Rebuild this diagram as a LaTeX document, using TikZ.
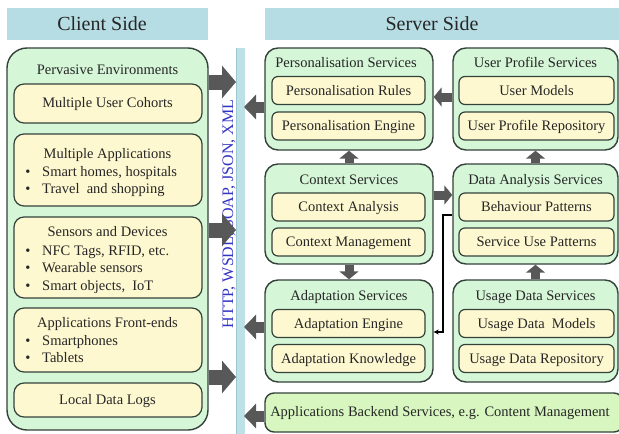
\documentclass[tikz,border=0pt]{standalone}
\usepackage{fontspec}
\setmainfont{Liberation Serif}
\usetikzlibrary{arrows.meta,calc}
\definecolor{hdr}{HTML}{B7DDE4}
\definecolor{outg}{HTML}{D6F6D8}
\definecolor{inny}{HTML}{FEF8D0}
\definecolor{bord}{HTML}{34423A}
\definecolor{backg}{HTML}{D8F7C0}
\definecolor{arr}{HTML}{585858}
\definecolor{proto}{HTML}{3434C4}
\definecolor{barc}{HTML}{BEE0E7}
\definecolor{barl}{HTML}{9CC8D2}
\tikzset{
  txt/.style={inner sep=0pt, text height=9.8pt, text depth=0pt, font=\fontsize{14.5}{17}\selectfont, text=black!85},
  hdrbox/.style={fill=hdr, draw=none, inner sep=0pt},
  hdrtxt/.style={inner sep=0pt, text height=13.5pt, text depth=0pt, font=\fontsize{20}{24}\selectfont, text=black!85},
  clout/.style={draw=bord, line width=1.4pt, fill=outg, rounded corners=20pt, inner sep=0pt},
  clin/.style={draw=bord, line width=1.2pt, fill=inny, rounded corners=10pt, inner sep=0pt, minimum width=188pt},
  svout/.style={draw=bord, line width=1.4pt, fill=outg, rounded corners=13pt, inner sep=0pt},
  svin/.style={draw=bord, line width=1.2pt, fill=inny, rounded corners=6pt, inner sep=0pt, minimum height=28pt,
     text height=9.8pt, text depth=0pt, font=\fontsize{14.5}{17}\selectfont, text=black!85},
  bigR/.style={draw=arr, line width=15pt, -{Triangle[length=14pt,width=32pt]}},
  midL/.style={draw=arr, line width=11pt, -{Triangle[length=12pt,width=24pt]}},
  smallA/.style={draw=arr, line width=9pt, -{Triangle[length=8pt,width=19pt]}},
  conn/.style={draw=black, line width=1.5pt, -{Stealth[length=5pt,width=5pt]}},
}
\begin{document}
\begin{tikzpicture}[x=1pt,y=-1pt]
\useasboundingbox (0,0) rectangle (619,434);
\fill[white] (0,0) rectangle (619,434);

% headers
\node[hdrbox, minimum width=201pt, minimum height=32pt] (hclient) at (107.5,24) {};
\node[hdrtxt] (tclient) at (102,24) {Client Side};
\node[hdrbox, minimum width=354pt, minimum height=32pt] (hserver) at (442,24) {};
\node[hdrtxt] (tserver) at (432,24) {Server Side};

% protocol bar
\node[fill=barc, draw=none, inner sep=0pt, minimum width=8pt, minimum height=386pt] (bar) at (241,241) {};
\draw[barl, line width=0.8pt] (bar.north west) -- (bar.south west);
\node[rotate=90, inner sep=0pt, text height=11pt, text depth=0pt, font=\fontsize{16}{18}\selectfont, text=proto] (proto) at (227.5,214) {HTTP, WSDL, SOAP, JSON, XML};

% client side
\node[clout, minimum width=201pt, minimum height=382pt] (client) at (107.5,239) {};
\node[txt] (tpervasive) at (107.5,70) {Pervasive Environments};
\node[clin, minimum height=39pt] (cohorts) at (108,103.5) {};
\node[txt] (tcohorts) at (107.5,103) {Multiple User Cohorts};
\node[clin, minimum height=72pt] (apps) at (108,170) {};
\node[txt] (tapps) at (107.5,154) {Multiple Applications};
\node[txt] (b1) at (28,172) {\textbullet};
\node[txt, anchor=west] (l1) at (42,172) {Smart homes, hospitals};
\node[txt] (b2) at (28,189) {\textbullet};
\node[txt, anchor=west] (l2) at (42,189) {Travel\ \ and shopping};
\node[clin, minimum height=81pt] (sensors) at (108,257.5) {};
\node[txt] (tsensors) at (107.5,232) {Sensors and Devices};
\node[txt] (b3) at (28,250.5) {\textbullet};
\node[txt, anchor=west] (l3) at (42,250.5) {NFC Tags,\ RFID, etc.};
\node[txt] (b4) at (28,268) {\textbullet};
\node[txt, anchor=west] (l4) at (42,268) {Wearable sensors};
\node[txt] (b5) at (28,285.5) {\textbullet};
\node[txt, anchor=west] (l5) at (42,285.5) {Smart objects,\ \ IoT};
\node[clin, minimum height=64pt] (front) at (108,340) {};
\node[txt] (tfront) at (107.5,323) {Applications Front-ends};
\node[txt] (b6) at (28,341) {\textbullet};
\node[txt, anchor=west] (l6) at (42,341) {Smartphones};
\node[txt] (b7) at (28,358) {\textbullet};
\node[txt, anchor=west] (l7) at (42,358) {Tablets};
\node[clin, minimum height=34pt] (logs) at (108,400) {};
\node[txt] (tlogs) at (107.5,400) {Local Data Logs};

% server side: left column
\node[svout, minimum width=168pt, minimum height=102pt] (pers) at (349,99) {};
\node[txt] (tpers) at (346,63) {Personalisation Services};
\node[svin, minimum width=153pt] (prules) at (348.5,90.5) {Personalisation Rules};
\node[svin, minimum width=153pt] (pengine) at (348.5,126) {Personalisation Engine};

\node[svout, minimum width=168pt, minimum height=100pt] (ctx) at (349,214) {};
\node[txt] (tctx) at (349,180) {Context Services};
\node[svin, minimum width=153pt] (canal) at (348.5,207) {Context Analysis};
\node[svin, minimum width=153pt] (cmgmt) at (348.5,242) {Context Management};

\node[svout, minimum width=168pt, minimum height=102pt] (adapt) at (349,331) {};
\node[txt] (tadapt) at (349,295.5) {Adaptation Services};
\node[svin, minimum width=153pt] (aengine) at (348.5,323.5) {Adaptation Engine};
\node[svin, minimum width=153pt] (aknow) at (348.5,358.5) {Adaptation Knowledge};

% server side: right column
\node[svout, minimum width=165pt, minimum height=102pt] (uprof) at (535.5,99) {};
\node[txt] (tuprof) at (535.5,63) {User Profile\ Services};
\node[svin, minimum width=155pt] (umodels) at (536.5,90.5) {User Models};
\node[svin, minimum width=155pt] (urepo) at (536.5,126) {User Profile\ Repository};

\node[svout, minimum width=165pt, minimum height=100pt] (dana) at (535.5,214) {};
\node[txt] (tdana) at (535.5,180) {Data Analysis Services};
\node[svin, minimum width=155pt] (behav) at (536.5,207) {Behaviour Patterns};
\node[svin, minimum width=155pt] (suse) at (536.5,242) {Service\ Use Patterns};

\node[svout, minimum width=165pt, minimum height=102pt] (usage) at (535.5,331) {};
\node[txt] (tusage) at (535.5,295.5) {Usage Data Services};
\node[svin, minimum width=155pt] (umod2) at (536.5,323.5) {Usage Data\ \ Models};
\node[svin, minimum width=155pt] (urepo2) at (536.5,358.5) {Usage Data Repository};

% backend
\node[draw=bord, line width=1.4pt, fill=backg, rounded corners=9pt, inner sep=0pt, minimum width=358pt, minimum height=39pt] (backend) at (444,412.5) {};
\node[txt] (tbackend) at (440,412) {Applications Backend Services, e.g. Content Management};

% arrows client -> bar
\coordinate (r1) at (236,82);
\coordinate (r2) at (236,230);
\coordinate (r3) at (236,377);
\draw[bigR] (client.east |- r1) -- (r1);
\draw[bigR] (client.east |- r2) -- (r2);
\draw[bigR] (client.east |- r3) -- (r3);

% arrows server -> bar
\coordinate (s1) at (244,107);
\coordinate (s2) at (244,327);
\coordinate (s3) at (244,416);
\draw[midL] (pers.west |- s1) -- (s1);
\draw[midL] (adapt.west |- s2) -- (s2);
\draw[midL] (backend.west |- s3) -- (s3);

% arrows between server boxes
\draw[smallA] (ctx.north) -- (pers.south);
\draw[smallA] (ctx.south) -- (adapt.north);
\draw[smallA] (dana.north) -- (uprof.south);
\draw[smallA] (usage.north) -- (dana.south);
\draw[smallA] (uprof.west |- 0,97) -- (pers.east |- 0,97);
\draw[smallA] (ctx.east |- 0,195) -- (dana.west |- 0,195);

% connector behaviour -> adaptation engine
\draw[conn] (dana.west |- 0,215) -- (443,215) |- (adapt.east |- 0,332);
\end{tikzpicture}
\end{document}
